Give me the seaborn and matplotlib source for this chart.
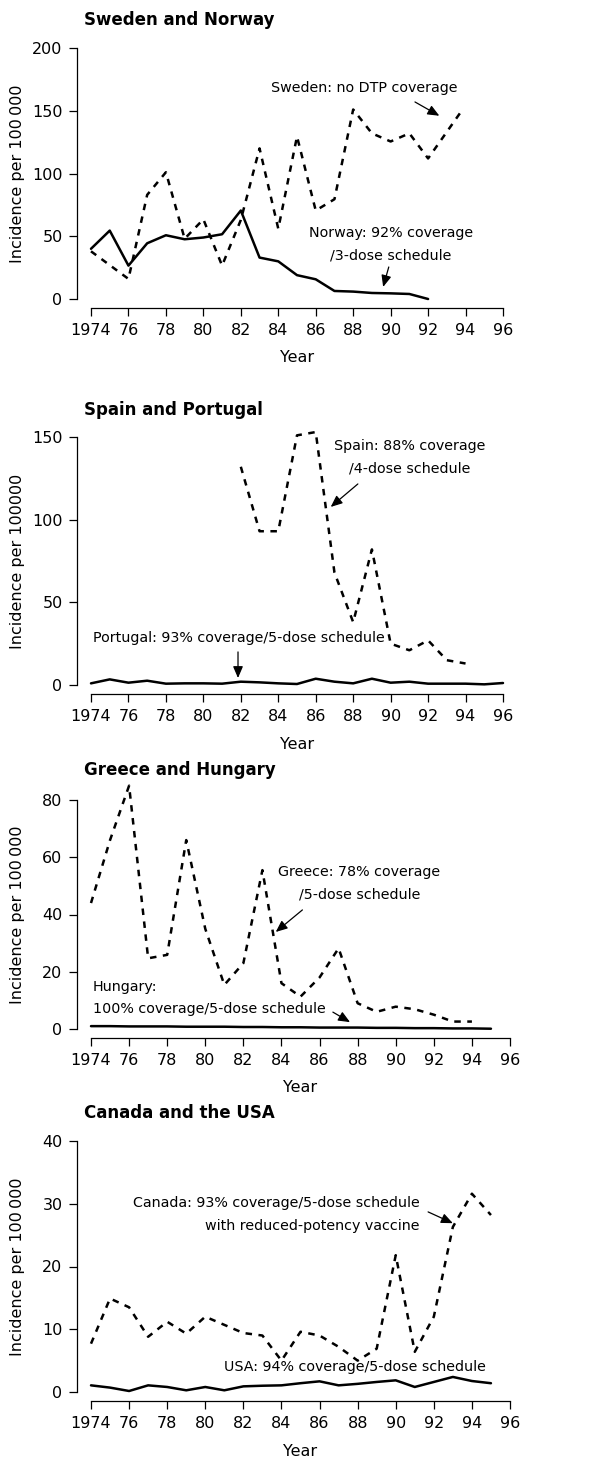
import matplotlib
matplotlib.use('Agg')
import matplotlib.pyplot as plt
import seaborn as sns

# ---- data ----
norway_years = list(range(1974, 1993))
norway = [40, 54.5, 26.6, 44.4, 50.8, 47.6, 49, 51.6, 70.5, 33, 30, 19, 15.7,
          6.4, 5.9, 4.8, 4.5, 4, 0]
sweden_years = list(range(1974, 1993)) + [1993.7]
sweden = [38, 27, 16, 83, 101, 48, 63.5, 26.6, 63, 120, 56, 129.5, 70.5, 79.5,
          151, 132, 125.5, 132, 112, 148]

spain_years = list(range(1982, 1995))
spain = [132, 93, 93, 151, 153, 68, 38, 82, 25, 21, 27, 15, 13]
portugal_years = list(range(1974, 1997))
portugal = [1, 3.4, 1.4, 2.6, 0.8, 1, 1, 0.8, 2, 1.6, 1, 0.6, 3.8, 2, 1, 3.8,
            1.4, 2, 0.8, 0.8, 0.8, 0.4, 1.2]

greece_years = list(range(1974, 1995))
greece = [44, 66, 85, 24.7, 25.9, 66, 35, 15.4, 23, 55.5, 16, 11.3, 18, 28.2,
          9, 6, 7.8, 6.9, 5, 2.6, 2.6]
hungary_years = list(range(1974, 1996))
hungary = [1.0, 1.0, 0.9, 0.9, 0.9, 0.8, 0.8, 0.8, 0.7, 0.7, 0.6, 0.6, 0.5,
           0.5, 0.5, 0.4, 0.4, 0.3, 0.3, 0.2, 0.2, 0.1]

canada_years = list(range(1974, 1996))
canada = [7.7, 14.9, 13.5, 8.8, 11.2, 9.3, 12, 10.7, 9.4, 9.0, 5.0, 9.6, 9.0,
          7.2, 5.0, 6.9, 21.8, 6.4, 12, 26.3, 31.6, 28.2]
usa_years = list(range(1974, 1996))
usa = [1.06, 0.7, 0.16, 1.06, 0.8, 0.27, 0.8, 0.27, 0.9, 1.0, 1.06, 1.4, 1.7,
       1.06, 1.3, 1.6, 1.86, 0.8, 1.6, 2.4, 1.75, 1.4]

x_ticks = list(range(1974, 1997, 2))
x_labels = ['1974'] + [str(y)[2:] for y in x_ticks[1:]]

titles = ['Sweden and Norway', 'Spain and Portugal', 'Greece and Hungary',
          'Canada and the USA']
ylabels = ['Incidence per 100\u2009000', 'Incidence per 100000',
           'Incidence per 100\u2009000', 'Incidence per 100\u2009000']

# ---- style ----
sns.set_style('ticks')
plt.rcParams['font.family'] = ['DejaVu Sans']
plt.rcParams['axes.linewidth'] = 0.9
plt.rcParams['text.color'] = 'black'
plt.rcParams['axes.labelcolor'] = 'black'
plt.rcParams['axes.edgecolor'] = 'black'

W, H = 590, 1463
fig = plt.figure(figsize=(W / 100, H / 100), dpi=100)

solid = dict(color='black', linewidth=1.8)
dashed = dict(color='black', linewidth=1.8, linestyle=(0, (2.6, 2.6)))
arrow = dict(arrowstyle='-|>,head_length=0.7,head_width=0.3', color='black',
             lw=0.9, shrinkA=0, shrinkB=0)
txt = dict(fontsize=10.3, linespacing=1.75, color='black')

# panel boxes in pixels: left, right, top(y at ymax), bottom(y at 0), title y, ymax, ystep
boxes = [(91, 503, 48, 299, 20, 200, 50),
         (91, 503, 437, 685, 410, 150, 50),
         (91, 510, 800, 1029, 770, 80, 20),
         (91, 510, 1141, 1392, 1113, 40, 10)]

axes = []
for i, (l, r, t, b, ty, ymax, ystep) in enumerate(boxes):
    ax = fig.add_axes([l / W, 1 - b / H, (r - l) / W, (b - t) / H])
    ax.set_xlim(1974, 1996)
    ax.set_ylim(0, ymax)
    ax.set_xticks(x_ticks)
    ax.set_xticklabels(x_labels)
    ax.set_yticks(range(0, ymax + 1, ystep))
    ax.tick_params(direction='out', length=6, width=0.9, labelsize=11.5,
                   color='black', labelcolor='black')
    ax.tick_params(axis='x', pad=5)
    ax.tick_params(axis='y', pad=4.5)
    ax.set_xlabel('Year', fontsize=11.5, va='center')
    ax.xaxis.set_label_coords(0.5, -59 / (b - t))
    ax.set_ylabel(ylabels[i], fontsize=11.5, va='center')
    ax.yaxis.set_label_coords((18 - l) / (r - l), 0.5)
    fig.text(84 / W, 1 - ty / H, titles[i], fontsize=12, fontweight='bold',
             ha='left', va='center', color='black')
    sns.despine(ax=ax, offset={'left': 10, 'bottom': 6.5}, trim=True)
    axes.append(ax)

# Sweden and Norway
ax = axes[0]
sns.lineplot(x=norway_years, y=norway, ax=ax, clip_on=False, **solid)
sns.lineplot(x=sweden_years, y=sweden, ax=ax, clip_on=False, **dashed)
ax.text(1988.6, 168, 'Sweden: no DTP coverage', ha='center', va='center', **txt)
ax.annotate('', xy=(1992.6, 146), xytext=(1991.3, 157), arrowprops=arrow)
ax.text(1990.0, 43.5, 'Norway: 92% coverage\n/3-dose schedule', ha='center',
        va='center', **txt)
ax.annotate('', xy=(1989.6, 9.6), xytext=(1989.9, 25.5), arrowprops=arrow)

# Spain and Portugal
ax = axes[1]
sns.lineplot(x=portugal_years, y=portugal, ax=ax, clip_on=False, **solid)
sns.lineplot(x=spain_years, y=spain, ax=ax, clip_on=False, **dashed)
ax.text(1991.0, 137.6, 'Spain: 88% coverage\n/4-dose schedule', ha='center',
        va='center', **txt)
ax.annotate('', xy=(1986.8, 107.7), xytext=(1988.25, 121.6), arrowprops=arrow)
ax.text(1981.9, 28.4, 'Portugal: 93% coverage/5-dose schedule', ha='center',
        va='center', **txt)
ax.annotate('', xy=(1981.85, 4.2), xytext=(1981.85, 20), arrowprops=arrow)

# Greece and Hungary
ax = axes[2]
sns.lineplot(x=hungary_years, y=hungary, ax=ax, clip_on=False, **solid)
sns.lineplot(x=greece_years, y=greece, ax=ax, clip_on=False, **dashed)
ax.text(1988.1, 50.8, 'Greece: 78% coverage\n/5-dose schedule', ha='center',
        va='center', **txt)
ax.annotate('', xy=(1983.7, 33.9), xytext=(1985.1, 41.6), arrowprops=arrow)
ax.text(1974.1, 10.8, 'Hungary:\n100% coverage/5-dose schedule', ha='left',
        va='center', **txt)
ax.annotate('', xy=(1987.6, 2.4), xytext=(1986.7, 5.9), arrowprops=arrow)

# Canada and the USA
ax = axes[3]
sns.lineplot(x=usa_years, y=usa, ax=ax, clip_on=False, **solid)
sns.lineplot(x=canada_years, y=canada, ax=ax, clip_on=False, **dashed)
ax.text(1991.26, 28.3, 'Canada: 93% coverage/5-dose schedule\nwith reduced-potency vaccine',
        ha='right', va='center', multialignment='right', **txt)
ax.annotate('', xy=(1993.0, 26.9), xytext=(1991.7, 28.7), arrowprops=arrow)
ax.text(1987.85, 4.0, 'USA: 94% coverage/5-dose schedule', ha='center',
        va='center', **txt)

fig.savefig('out.png', dpi=100)
